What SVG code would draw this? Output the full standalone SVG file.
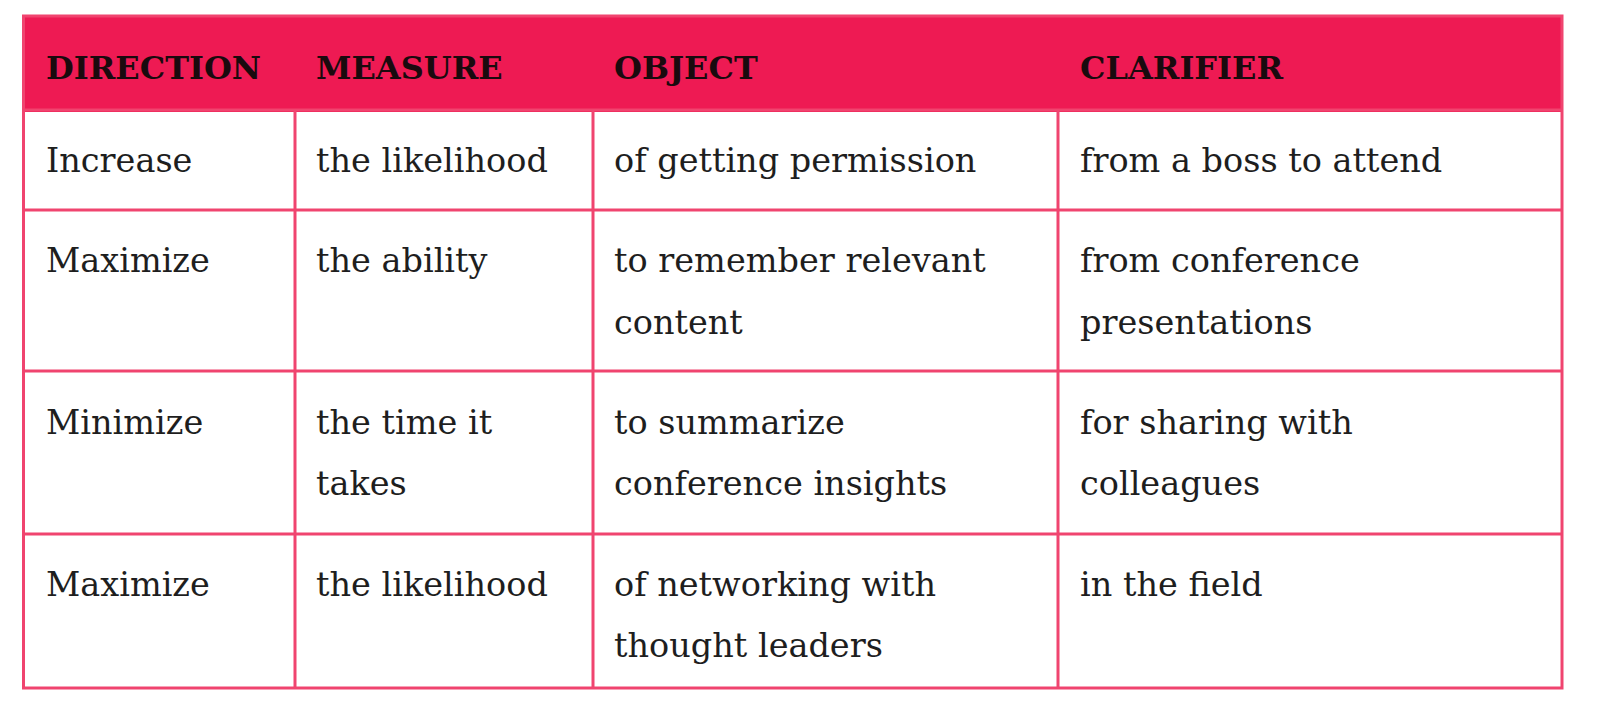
<svg xmlns="http://www.w3.org/2000/svg" width="1600" height="705" viewBox="0 0 1600 705">
<style>
.h{font-family:"DejaVu Serif","Liberation Serif",serif;font-weight:bold;font-size:32px;fill:#1a0a0e}
.t{font-family:"DejaVu Serif","Liberation Serif",serif;font-size:33.5px;fill:#1e1e1e}
.g{stroke:#F0446F;stroke-width:3;fill:none}
</style>
<rect width="1600" height="705" fill="#fff"/>
<g id="header">
<rect x="22" y="15" width="1541" height="97" fill="#EE1A53"/>
<text class="h" x="46" y="79">DIRECTION</text>
<text class="h" x="316" y="79">MEASURE</text>
<text class="h" x="614" y="79">OBJECT</text>
<text class="h" x="1080" y="79">CLARIFIER</text>
</g>
<g id="grid" class="g">
<rect x="23.5" y="16" width="1538.5" height="672"/>
<line x1="23.5" y1="110" x2="1562" y2="110"/>
<line x1="23.5" y1="210" x2="1562" y2="210"/>
<line x1="23.5" y1="371" x2="1562" y2="371"/>
<line x1="23.5" y1="534" x2="1562" y2="534"/>
<line x1="295" y1="110" x2="295" y2="688"/>
<line x1="593" y1="110" x2="593" y2="688"/>
<line x1="1058" y1="110" x2="1058" y2="688"/>
</g>
<g id="row1">
<text class="t" x="46" y="172">Increase</text>
<text class="t" x="316" y="172">the likelihood</text>
<text class="t" x="614" y="172">of getting permission</text>
<text class="t" x="1080" y="172">from a boss to attend</text>
</g>
<g id="row2">
<text class="t" x="46" y="272">Maximize</text>
<text class="t" x="316" y="272">the ability</text>
<text class="t" x="614" y="272">to remember relevant</text>
<text class="t" x="614" y="334">content</text>
<text class="t" x="1080" y="272">from conference</text>
<text class="t" x="1080" y="334">presentations</text>
</g>
<g id="row3">
<text class="t" x="46" y="434">Minimize</text>
<text class="t" x="316" y="434">the time it</text>
<text class="t" x="316" y="495">takes</text>
<text class="t" x="614" y="434">to summarize</text>
<text class="t" x="614" y="495">conference insights</text>
<text class="t" x="1080" y="434">for sharing with</text>
<text class="t" x="1080" y="495">colleagues</text>
</g>
<g id="row4">
<text class="t" x="46" y="596">Maximize</text>
<text class="t" x="316" y="596">the likelihood</text>
<text class="t" x="614" y="596">of networking with</text>
<text class="t" x="614" y="657">thought leaders</text>
<text class="t" x="1080" y="596">in the field</text>
</g>
</svg>
